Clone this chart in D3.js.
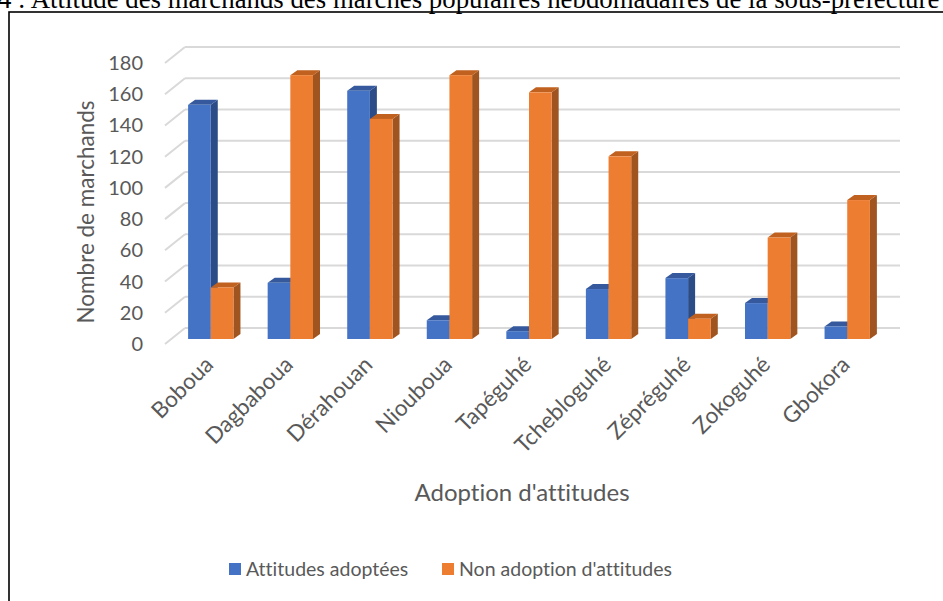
<!DOCTYPE html>
<html>
<head>
<meta charset="utf-8">
<script src="https://cdn.jsdelivr.net/npm/d3@7"></script>
<style>
  body { margin: 0; background: #fff; }
  .tick-label, .axis-title { font-family: Lato, "Open Sans", sans-serif; fill: #595959; font-variant-ligatures: none; }
</style>
</head>
<body>
<div id="chart"></div>
<script>
const villages = ["Boboua", "Dagbaboua", "Dérahouan", "Nioubouа".replace("а", "a"), "Tapéguhé", "Tchebloguhé", "Zépréguhé", "Zokoguhé", "Gbokora"];
const seriesNames = ["Attitudes adoptées", "Non adoption d'attitudes"];
const adoptees = [150, 36, 159, 12, 5, 32, 39, 23, 8];
const nonAdoption = [33, 169, 141, 169, 158, 117, 13, 65, 89];
const yTicks = [0, 20, 40, 60, 80, 100, 120, 140, 160, 180];

const width = 943, height = 601;
const colors = {
    front: ["#4472C4", "#ED7D31"],
    side: ["#2C4C88", "#A0541F"],
    top: ["#35599C", "#C0611F"]
};

const svg = d3.select("#chart")
    .append("svg")
    .attr("width", width)
    .attr("height", height);

// title line (cut at the top of the picture)
svg.append("text")
    .text("4 : Attitude des marchands des marchés populaires hebdomadaires de la sous-préfecture")
    .attr("x", -2)
    .attr("y", 8)
    .attr("font-family", "Liberation Serif, serif")
    .attr("font-size", 26.8)
    .attr("fill", "#000");

// frame
svg.append("rect")
    .attr("x", 9)
    .attr("y", 12)
    .attr("width", 960)
    .attr("height", 620)
    .attr("fill", "none")
    .attr("stroke", "#000")
    .attr("stroke-width", 1.6);

// scales
const yBack = d3.scaleLinear().domain([0, 180]).range([328, 47]);
const yBar = d3.scaleLinear().domain([0, 180]).range([339, 58]);
const yFront = d3.scaleLinear().domain([0, 180]).range([344, 63]);

const x0 = d3.scaleBand()
    .domain(villages)
    .range([171, 887])
    .paddingInner(0.43)
    .paddingOuter(0.215);

const x1 = d3.scaleBand()
    .domain([0, 1])
    .range([0, x0.bandwidth()]);

const wallLeft = 185, wallRight = 900, floorDx = 20, floorDy = 16;

// gridlines on the back wall + diagonal lines on the side wall
const grid = svg.append("g")
    .attr("stroke", "#d9d9d9")
    .attr("stroke-width", 2)
    .attr("fill", "none");

grid.selectAll("line.h")
    .data(yTicks)
    .join("line")
    .attr("class", "h")
    .attr("x1", wallLeft)
    .attr("x2", wallRight)
    .attr("y1", d => yBack(d))
    .attr("y2", d => yBack(d));

grid.selectAll("line.d")
    .data(yTicks)
    .join("line")
    .attr("class", "d")
    .attr("x1", wallLeft - floorDx)
    .attr("y1", d => yBack(d) + floorDy)
    .attr("x2", wallLeft)
    .attr("y2", d => yBack(d));

// y tick labels
svg.append("g")
    .selectAll("text")
    .data(yTicks)
    .join("text")
    .attr("class", "tick-label")
    .attr("x", 143)
    .attr("y", d => yFront(d))
    .attr("dy", "0.35em")
    .attr("text-anchor", "end")
    .attr("font-size", 20)
    .text(d => d);

// 3D bars
const depthX = 7, depthY = -5;
const barData = villages.map((v, i) => ({ village: v, values: [adoptees[i], nonAdoption[i]] }));

const groups = svg.append("g")
    .selectAll("g")
    .data(barData)
    .join("g")
    .attr("transform", d => `translate(${x0(d.village)},0)`);

groups.each(function(d) {
    const g = d3.select(this);
    d.values.forEach((val, s) => {
        const x = x1(s), w = x1.bandwidth();
        const yt = yBar(val), yb = yBar(0);
        g.append("polygon")
            .attr("points", [[x + w, yt], [x + w + depthX, yt + depthY], [x + w + depthX, yb + depthY], [x + w, yb]].join(" "))
            .attr("fill", colors.side[s]);
        g.append("polygon")
            .attr("points", [[x, yt], [x + depthX, yt + depthY], [x + w + depthX, yt + depthY], [x + w, yt]].join(" "))
            .attr("fill", colors.top[s]);
        g.append("rect")
            .attr("x", x)
            .attr("y", yt)
            .attr("width", w)
            .attr("height", yb - yt)
            .attr("fill", colors.front[s]);
    });
});

// x labels, rotated
svg.append("g")
    .selectAll("text")
    .data(villages)
    .join("text")
    .attr("class", "tick-label")
    .attr("font-size", 22.5)
    .attr("text-anchor", "end")
    .attr("transform", d => `translate(${x0(d) + x0.bandwidth() / 2 + 4},${366}) rotate(-45)`)
    .text(d => d);

// axis titles
svg.append("text")
    .attr("class", "axis-title")
    .attr("font-size", 22.5)
    .attr("text-anchor", "middle")
    .attr("transform", `translate(94,212) rotate(-90)`)
    .text("Nombre de marchands");

svg.append("text")
    .attr("class", "axis-title")
    .attr("font-size", 24)
    .attr("text-anchor", "middle")
    .attr("x", 522)
    .attr("y", 501)
    .text("Adoption d'attitudes");

// legend
const legend = svg.append("g")
    .attr("transform", "translate(229,563)");

const legendX = [0, 213];
seriesNames.forEach((name, i) => {
    const g = legend.append("g")
        .attr("transform", `translate(${legendX[i]},0)`);
    g.append("rect")
        .attr("width", 12)
        .attr("height", 12)
        .attr("fill", colors.front[i]);
    g.append("text")
        .attr("class", "tick-label")
        .attr("x", 17)
        .attr("y", 13)
        .attr("font-size", 19.5)
        .text(name);
});
</script>
</body>
</html>
